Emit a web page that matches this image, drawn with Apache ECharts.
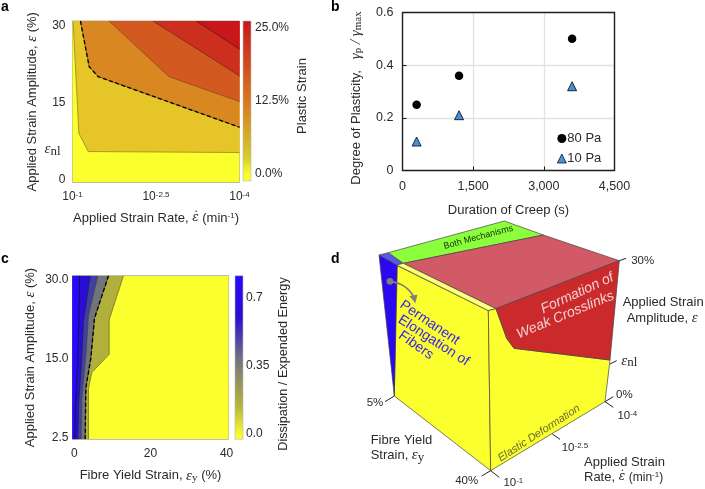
<!DOCTYPE html>
<html><head><meta charset="utf-8">
<style>html,body{margin:0;padding:0;background:#fff}#c{width:705px;height:489px}</style>
<script src="https://cdn.jsdelivr.net/npm/echarts@6/dist/echarts.min.js"></script>
</head><body><div id="c"></div>
<script>
// ---------- Panel a: contour boundaries [log10-rate magnitude, strain amplitude %]
const aLevel1 = [[1.01,31],[1.114,9.1],[1.281,5.54],[4,5.34]];
const aLevel2 = [[1.143,31],[1.299,22.1],[1.46,20.15],[4,10.28]];
const aLevel3 = [[1.657,31],[2.733,20.15],[4,15.28]];
const aLevel4 = [[2.446,31],[4,20.28]];
const aLevel5 = [[3.223,31],[4,25.54]];
const aColors = ['#fbff2d','#e6c528','#d98720','#d2591f','#cd2f1f','#c9161c'];
const aRateTicks = [1,2.5,4];
const aStrainLabels = {30:'30',15:'15',6:'{e|ε}{n2|nl}',0:'0'};
// ---------- Panel b
const creepTimes = [300,1200,3600];
const plasticity80 = [0.25,0.36,0.5];
const plasticity10 = [0.11,0.21,0.32];
// ---------- Panel c: contour boundaries [fibre yield %, amplitude axis position]
const cLevelA = [[1.34,30.8],[1.17,22.06],[0.81,13.8],[0.29,6.2],[0.11,-0.3]];
const cLevelB = [[4.15,30.8],[2.39,22.06],[1.87,14.46],[1.08,6.2],[0.9,-0.3]];
const cLevelC = [[6.16,30.8],[3.7,23.3],[3.09,16.4],[1.95,7.5],[1.78,-0.3]];
const cLevelD = [[8.97,30.8],[5.28,22.7],[4.32,15.1],[3.0,9.4],[2.83,-0.3]];
const cLevelE = [[12.9,30.8],[9.14,22.4],[9.14,15.85],[4.58,12.4],[3.71,9.4],[3.71,-0.3]];
const cColors = ['#fbff2d','#b2b03c','#73737a','#3f3fa6','#2a0cd6','#2a08ff'];
const cStrainLabels = {30:'30.0',15:'15.0',0:'2.5'};
// ---------- Panel d: schematic cube faces, in diagram units
const dFaces = [
 {c:'#fbff2d',p:[[168,135],[445,272],[452,752],[163,528]]},
 {c:'#2a08f0',p:[[117,105],[172,135],[163,528]]},
 {c:'#5a58e8',p:[[117,105],[145,98],[190,130],[170,135]]},
 {c:'#8cff3c',p:[[145,98],[493,3],[610,45],[190,130]]},
 {c:'#d25a66',p:[[190,130],[610,45],[838,122],[468,266]]},
 {c:'#ffff78',p:[[170,135],[190,130],[468,266],[445,272]]},
 {c:'#fbff2d',p:[[445,272],[468,266],[500,355],[522,385],[810,420],[795,545],[452,752]]},
 {c:'#cb2a2d',p:[[468,266],[838,122],[810,420],[522,385],[500,355]]}
];
const dTicks = [[[838,122],[858,115]],[[810,432],[830,422]],[[795,545],[820,530]],[[795,545],[820,562]],
 [[637,642],[660,658]],[[452,752],[478,772]],[[452,752],[425,768]],[[163,528],[135,545]]];
const dLabels = [
 ['30%',908,122,'center',0,'n'],['{e|ε}{n|nl}',868,423,'center',0,'n'],['0%',853,525,'center',0,'n'],
 ['10{s|-4}',862,588,'center',0,'n'],['10{s|-2.5}',705,683,'center',0,'n'],['10{s|-1}',520,788,'center',0,'n'],
 ['40%',380,782,'center',0,'n'],['5%',105,548,'center',0,'n'],
 ['Applied Strain',848,248,'left',0,'t'],['Amplitude, {e|ε}',860,295,'left',0,'t'],
 ['Fibre Yield',92,662,'left',0,'t'],['Strain, {e|ε}{n|y}',92,706,'left',0,'t'],
 ['Applied Strain',732,727,'left',0,'t'],['Rate, {ed|ε̇} {u|(min}{su|-1}{u|)}',732,772,'left',0,'t'],
 ['Both Mechanisms',415,52,'center',15,'both'],
 ['Formation of',712,220,'center',25,'form'],['Weak Crosslinks',676,285,'center',22.5,'form'],
 ['Permanent',269,308,'center',-34,'perm'],['Elongation of',281,362,'center',-33,'perm'],['Fibers',228,376,'center',-35,'perm'],
 ['Elastic Deformation',597,640,'center',33,'elastic']
];
const titleFont = 'Liberation Sans';
const serif = 'Liberation Serif';
const ink = '#2a2a2a';
const richBase = {
 e:{fontFamily:serif,fontStyle:'italic',fontSize:15,color:ink},
 ed:{fontFamily:'DejaVu Serif',fontStyle:'italic',fontSize:12,color:ink},
 n:{fontFamily:serif,fontSize:13,color:ink,verticalAlign:'bottom',padding:[4,0,0,0]},
 n2:{fontFamily:serif,fontSize:13,color:ink,verticalAlign:'bottom',padding:[4,5,0,0]},
 s:{fontFamily:titleFont,fontSize:8,color:ink,verticalAlign:'top',padding:[0,0,4,0]},
 su:{fontFamily:titleFont,fontSize:8,color:ink,verticalAlign:'top',padding:[0,0,4,0]},
 u:{fontFamily:titleFont,fontSize:12,color:ink},
 g:{fontFamily:serif,fontStyle:'italic',fontSize:15,color:ink},
 sb:{fontFamily:serif,fontSize:11,color:ink,verticalAlign:'bottom',padding:[4,0,0,0]}
};
const richTitle = Object.assign({},richBase,{u:{fontFamily:titleFont,fontSize:13,color:ink}});
function bandSeries(pts, closing, fill, stroke, dashed, gi){
  const poly = pts.concat(closing);
  return {type:'custom',coordinateSystem:'cartesian2d',xAxisIndex:gi,yAxisIndex:gi,silent:true,
    data:poly,clip:true,encode:{x:0,y:1},
    renderItem:(p,api)=>{
      if(p.dataIndex!==0) return null;
      const kids=[{type:'polygon',shape:{points:poly.map(q=>api.coord(q))},style:{fill:fill,stroke:null}}];
      kids.push({type:'polyline',shape:{points:pts.map(q=>api.coord(q))},style:{fill:null,stroke:stroke,lineWidth:.7}});
      if(dashed) kids.push({type:'polyline',shape:{points:pts.map(q=>api.coord(q))},style:{fill:null,stroke:'#000',lineWidth:1.3,lineDash:[4,2.5]}});
      return {type:'group',children:kids};
    }};
}
function barSeries(gi, lo, hi, stops){
  return {type:'custom',coordinateSystem:'cartesian2d',xAxisIndex:gi,yAxisIndex:gi,silent:true,data:[[0,lo],[1,hi]],encode:{x:0,y:1},
    renderItem:(p,api)=>{
      if(p.dataIndex!==0) return null;
      const a=api.coord([0,hi]),b=api.coord([1,lo]);
      return {type:'rect',shape:{x:a[0],y:a[1],width:b[0]-a[0],height:b[1]-a[1]},
        style:{fill:new echarts.graphic.LinearGradient(0,0,0,1,stops),stroke:'#bbb',lineWidth:.6}};
    }};
}
const lab = (extra)=>Object.assign({fontFamily:titleFont,fontSize:13,color:ink},extra||{});
const minorA = [1,1.3,1.6,1.9,2.2,2.5,2.8,3.1,3.4,3.7,4];
const option = {
 animation:false,backgroundColor:'#fff',
 textStyle:{fontFamily:titleFont},
 graphic:[
  {type:'text',left:1,top:0,style:{text:'a',font:'bold 14px "Liberation Sans"',fill:'#000'}},
  {type:'text',left:331,top:0,style:{text:'b',font:'bold 14px "Liberation Sans"',fill:'#000'}},
  {type:'text',left:1,top:252,style:{text:'c',font:'bold 14px "Liberation Sans"',fill:'#000'}},
  {type:'text',left:331,top:252,style:{text:'d',font:'bold 14px "Liberation Sans"',fill:'#000'}}
 ],
 legend:{data:[{name:'80 Pa',itemStyle:{color:'#000',borderWidth:0,opacity:1}},{name:'10 Pa',itemStyle:{color:'#4a8fdc',borderColor:'#000',borderWidth:.7,opacity:1}}],
   orient:'vertical',left:552,top:127,itemGap:7,itemWidth:9,itemHeight:9,
   textStyle:{fontFamily:titleFont,fontSize:13,color:ink,padding:[0,0,0,-4]}},
 grid:[
  {left:72.5,top:21,width:167,height:161.5,show:true,borderColor:'#aaa',borderWidth:1},
  {left:402.5,top:12.5,width:212,height:158,show:false},
  {left:72.5,top:275.7,width:156,height:163.6,show:true,borderColor:'#aaa',borderWidth:1},
  {left:340,top:220,width:365,height:269,show:false},
  {left:243,top:21,width:8,height:160,show:false},
  {left:235,top:275.7,width:8,height:163.6,show:false}
 ],
 xAxis:[
  {gridIndex:0,type:'value',min:1,max:4,splitLine:{show:false},
   name:'Applied Strain Rate, {ed|ε̇} {u|(min}{su|-1}{u|)}',nameLocation:'middle',nameGap:29,
   nameTextStyle:lab({rich:richTitle}),
   axisLine:{show:false},axisTick:{customValues:minorA,inside:true,length:2,lineStyle:{color:'#999'}},
   axisLabel:{customValues:aRateTicks,margin:8,fontFamily:titleFont,fontSize:12,color:ink,
     formatter:v=>'10{s|-'+v+'}',rich:richBase}},
  {gridIndex:1,type:'value',min:0,max:4500,interval:1500,name:'Duration of Creep (s)',nameLocation:'middle',nameGap:33,
   nameTextStyle:lab(),
   axisLine:{show:false},axisTick:{inside:true,length:4,lineStyle:{color:'#111'}},
   splitLine:{show:true,lineStyle:{color:'#e2e2e2',width:1.3}},
   axisLabel:{margin:10,fontFamily:titleFont,fontSize:12.5,color:ink,formatter:v=>v.toLocaleString('en-US')}},
  {gridIndex:2,type:'value',min:-0.5,max:40.5,splitLine:{show:false},
   name:'Fibre Yield Strain, {e|ε}{sb|y} {u|(%)}',nameLocation:'middle',nameGap:29,
   nameTextStyle:lab({rich:richTitle}),
   axisLine:{show:false},axisTick:{customValues:[20],inside:true,length:2,lineStyle:{color:'#999'}},
   axisLabel:{customValues:[0,20,40],margin:8,fontFamily:titleFont,fontSize:12,color:ink}},
  {gridIndex:3,type:'value',min:0,max:1095,show:false},
  {gridIndex:4,type:'value',min:0,max:1,show:false},
  {gridIndex:5,type:'value',min:0,max:1,show:false}
 ],
 yAxis:[
  {gridIndex:0,type:'value',min:-0.5,max:31,splitLine:{show:false},
   name:'Applied Strain Amplitude, {e|ε} {u|(%)}',nameLocation:'middle',nameGap:33,nameRotate:90,
   nameTextStyle:lab({rich:richTitle}),
   axisLine:{show:false},axisTick:{customValues:[30,15,5.3,0],inside:true,length:2,lineStyle:{color:'#999'}},
   axisLabel:{customValues:[30,15,6,0],margin:7,fontFamily:titleFont,fontSize:12,color:ink,
     formatter:v=>aStrainLabels[v],rich:richBase}},
  {gridIndex:1,type:'value',min:0,max:0.6,interval:0.2,
   name:'Degree of Plasticity,   {g|γ}{sb|p}{g| / γ}{sb|max}',nameLocation:'middle',nameGap:39,nameRotate:90,
   nameTextStyle:lab({rich:richBase,padding:[0,13,0,0]}),
   axisLine:{show:false},axisTick:{inside:true,length:4,lineStyle:{color:'#111'}},
   splitLine:{show:true,lineStyle:{color:'#e2e2e2',width:1.3}},
   axisLabel:{margin:9,fontFamily:titleFont,fontSize:12.5,color:ink,formatter:v=>v===0?'0':v.toFixed(1)}},
  {gridIndex:2,type:'value',min:-0.3,max:30.8,splitLine:{show:false},
   name:'Applied Strain Amplitude, {e|ε} {u|(%)}',nameLocation:'middle',nameGap:35,nameRotate:90,
   nameTextStyle:lab({rich:richTitle}),
   axisLine:{show:false},axisTick:{customValues:[15],inside:true,length:2,lineStyle:{color:'#999'}},
   axisLabel:{customValues:[30,15,0],margin:4,fontFamily:titleFont,fontSize:12,color:ink,formatter:v=>cStrainLabels[v]}},
  {gridIndex:3,type:'value',min:0,max:807,inverse:true,show:false},
  {gridIndex:4,type:'value',min:-1.2,max:26.2,position:'right',splitLine:{show:false},
   name:'Plastic Strain',nameLocation:'middle',nameGap:45,nameRotate:90,nameTextStyle:lab({padding:[0,0,0,10]}),
   axisLine:{show:false},axisTick:{show:false},
   axisLabel:{customValues:[25,12.5,0],margin:4,fontFamily:titleFont,fontSize:12,color:ink,formatter:v=>v.toFixed(1)+'%'}},
  {gridIndex:5,type:'value',min:-0.03,max:0.815,position:'right',splitLine:{show:false},
   name:'Dissipation / Expended Energy',nameLocation:'middle',nameGap:34,nameRotate:90,nameTextStyle:lab({fontSize:12.7,padding:[0,13,0,0]}),
   axisLine:{show:false},axisTick:{show:false},
   axisLabel:{customValues:[0.7,0.35,0],margin:3,fontFamily:titleFont,fontSize:12,color:ink,
     formatter:v=>v===0?'0.0':String(v)}}
 ],
 series:[
  // panel a
  bandSeries([[1,31],[1,-0.5],[4,-0.5],[4,31]],[],aColors[0],'rgba(0,0,0,0)',false,0),
  bandSeries(aLevel1,[[4,31]],aColors[1],'#8a7a20',false,0),
  bandSeries(aLevel2,[[4,31]],aColors[2],'#6a4a10',true,0),
  bandSeries(aLevel3,[[4,31]],aColors[3],'#7a4a20',false,0),
  bandSeries(aLevel4,[[4,31]],aColors[4],'#6a2a18',false,0),
  bandSeries(aLevel5,[[4,31]],aColors[5],'#501510',false,0),
  barSeries(4,-1.2,26.2,[{offset:0,color:'#c9161c'},{offset:.5,color:'#d9771f'},{offset:.85,color:'#d4cc2a'},{offset:.95,color:'#f8fb2d'},{offset:1,color:'#fbff2d'}]),
  // panel b
  {type:'scatter',name:'80 Pa',xAxisIndex:1,yAxisIndex:1,symbol:'circle',symbolSize:8.5,z:5,
   data:creepTimes.map((t,i)=>[t,plasticity80[i]]),itemStyle:{color:'#000',opacity:1}},
  {type:'scatter',name:'10 Pa',xAxisIndex:1,yAxisIndex:1,symbol:'triangle',symbolSize:9,z:5,
   data:creepTimes.map((t,i)=>[t,plasticity10[i]]),itemStyle:{color:'#4a8fdc',borderColor:'#000',borderWidth:.8,opacity:1}},
  // box of panel b
  {type:'custom',coordinateSystem:'cartesian2d',xAxisIndex:1,yAxisIndex:1,silent:true,z:4,data:[[0,0],[4500,0.6]],encode:{x:0,y:1},
   renderItem:(p,api)=>{ if(p.dataIndex) return null; const a=api.coord([0,0.6]),b=api.coord([4500,0]);
     return {type:'rect',shape:{x:a[0],y:a[1],width:b[0]-a[0],height:b[1]-a[1]},style:{fill:null,stroke:'#222',lineWidth:1.4}};}},
  // panel c
  bandSeries([[-0.5,30.8],[-0.5,-0.3],[40.5,-0.3],[40.5,30.8]],[],cColors[0],'rgba(0,0,0,0)',false,2),
  bandSeries(cLevelE,[[-0.5,-0.3],[-0.5,30.8]],cColors[1],'#66662a',false,2),
  bandSeries(cLevelD,[[-0.5,-0.3],[-0.5,30.8]],cColors[2],'#333',true,2),
  bandSeries(cLevelC,[[-0.5,-0.3],[-0.5,30.8]],cColors[3],'#444',false,2),
  bandSeries(cLevelB,[[-0.5,-0.3],[-0.5,30.8]],cColors[4],'#223',false,2),
  bandSeries(cLevelA,[[-0.5,-0.3],[-0.5,30.8]],cColors[5],'#112',false,2),
  barSeries(5,-0.03,0.815,[{offset:0,color:'#2a08ff'},{offset:.25,color:'#2a0cd0'},{offset:.5,color:'#6f6f85'},{offset:.8,color:'#b8b63a'},{offset:.96,color:'#f5f82d'},{offset:1,color:'#fbff2d'}]),
  // panel d faces
  {type:'custom',coordinateSystem:'cartesian2d',xAxisIndex:3,yAxisIndex:3,silent:true,data:dFaces.map((f,i)=>[i,0]),encode:{x:0,y:1},
   renderItem:(p,api)=>{
     const f=dFaces[p.dataIndex];
     return {type:'polygon',shape:{points:f.p.map(q=>api.coord(q))},style:{fill:f.c,stroke:'#444',lineWidth:.7}};
   }},
  {type:'custom',coordinateSystem:'cartesian2d',xAxisIndex:3,yAxisIndex:3,silent:true,data:dTicks.map((f,i)=>[i,0]),encode:{x:0,y:1},
   renderItem:(p,api)=>{
     const t=dTicks[p.dataIndex];
     return {type:'polyline',shape:{points:t.map(q=>api.coord(q))},style:{fill:null,stroke:'#222',lineWidth:1}};
   }},
  // arrow
  {type:'custom',coordinateSystem:'cartesian2d',xAxisIndex:3,yAxisIndex:3,silent:true,z:3,data:[[150,184]],encode:{x:0,y:1},
   renderItem:(p,api)=>{
     const c=q=>api.coord(q),a=c([150,184]),b=c([222,232]),m=c([200,190]);
     return {type:'group',children:[
       {type:'circle',shape:{cx:a[0],cy:a[1],r:3.4},style:{fill:'#808080'}},
       {type:'bezierCurve',shape:{x1:a[0],y1:a[1],x2:b[0],y2:b[1],cpx1:m[0],cpy1:m[1]},style:{fill:null,stroke:'#808080',lineWidth:1.6}},
       {type:'polygon',shape:{points:[c([208,228]),c([232,224]),c([226,250])]},style:{fill:'#808080'}}
     ]};
   }},
  // labels
  {type:'custom',coordinateSystem:'cartesian2d',xAxisIndex:3,yAxisIndex:3,silent:true,z:4,data:dLabels.map(l=>[l[1],l[2]]),encode:{x:0,y:1},
   renderItem:(p,api)=>{
     const l=dLabels[p.dataIndex],q=api.coord([l[1],l[2]]);
     const st={n:{s:11.5,c:ink},t:{s:13,c:ink},both:{s:9,c:'#0f2a08'},form:{s:14,c:'#f3cfcf',i:1},
       perm:{s:14,c:'#3a22f0'},elastic:{s:11,c:'#6b6b30',i:1}}[l[5]];
     return {type:'text',x:q[0],y:q[1],rotation:l[4]*Math.PI/180,style:{text:l[0],fontFamily:titleFont,fontSize:st.s,
       fontStyle:st.i?'italic':'normal',fill:st.c,align:l[3],verticalAlign:'middle',rich:richBase}};
   }}
 ]
};
const chart = echarts.init(document.getElementById('c'),null,{renderer:'canvas'});
chart.setOption(option);
</script></body></html>
